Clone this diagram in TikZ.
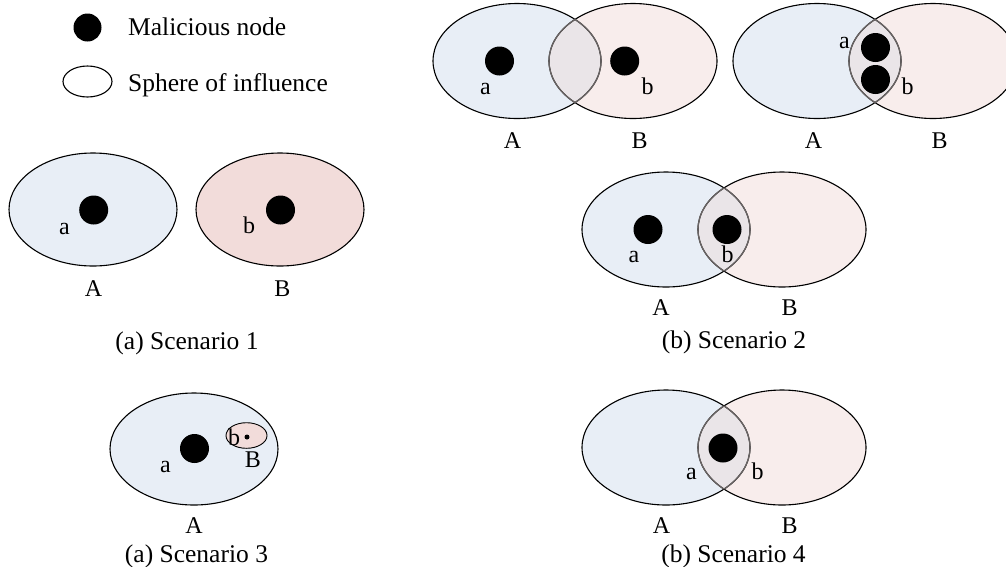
\documentclass[tikz,border=0pt]{standalone}
\usepackage{fontspec}
\setmainfont{Liberation Serif}
\definecolor{fillA}{RGB}{232,238,246}
\definecolor{fillB}{RGB}{248,237,236}
\definecolor{fillBs}{RGB}{242,220,218}
\definecolor{fillAB}{RGB}{234,229,232}
\definecolor{innerarc}{RGB}{105,100,100}
\tikzset{
  sph/.style={draw=black, line width=1.1pt},
  inarc/.style={draw=innerarc, line width=1.3pt},
  dotn/.style={circle, fill=black, minimum size=29pt, inner sep=0pt},
  lbl/.style={font=\fontsize{24}{24}\selectfont, anchor=base, inner sep=0pt},
  capt/.style={font=\fontsize{25.5}{26}\selectfont, anchor=base, inner sep=0pt},
  legtxt/.style={font=\fontsize{25.5}{26}\selectfont, anchor=base west, inner sep=0pt},
}
\newcommand\myell[2]{(#1,#2) ellipse [x radius=84pt, y radius=57.5pt]}
\newcommand\vennpair[3]{%
  \fill[fillA] \myell{#1}{#3};
  \fill[fillB] \myell{#2}{#3};
  \begin{scope}
    \clip \myell{#1}{#3};
    \fill[fillAB] \myell{#2}{#3};
  \end{scope}
  \draw[sph] \myell{#1}{#3};
  \draw[sph] \myell{#2}{#3};
  \begin{scope}
    \clip \myell{#1}{#3};
    \draw[inarc] \myell{#2}{#3};
  \end{scope}
  \begin{scope}
    \clip \myell{#2}{#3};
    \draw[inarc] \myell{#1}{#3};
  \end{scope}
}
\begin{document}
\begin{tikzpicture}[x=1pt,y=-1pt]
\useasboundingbox (0,0) rectangle (1006,566);
\fill[white] (0,0) rectangle (1006,566);

% Legend
\node[circle, fill=black, minimum size=28pt, inner sep=0pt] (legdot) at (87.5,27.5) {};
\draw[sph, fill=white] (87.5,81.5) ellipse [x radius=24.5pt, y radius=15.5pt];
\node[legtxt] (legmal) at (128,35) {Malicious node};
\node[legtxt] (legsph) at (128,91.5) {Sphere of influence};

% Top right, pair 1
\vennpair{517}{633}{61}
\node[dotn] (t1a) at (499.5,61) {};
\node[dotn] (t1b) at (624.7,61) {};
\node[lbl] (t1la) at (485.5,94) {a};
\node[lbl] (t1lb) at (647.5,94) {b};
\node[lbl] (t1A) at (512.5,148) {A};
\node[lbl] (t1B) at (639.5,148) {B};

% Top right, pair 2
\vennpair{817}{933}{61}
\node[dotn] (t2a) at (875.5,47.5) {};
\node[dotn] (t2b) at (875.5,79.5) {};
\node[lbl] (t2la) at (844.5,48) {a};
\node[lbl] (t2lb) at (907.5,94) {b};
\node[lbl] (t2A) at (813.5,148) {A};
\node[lbl] (t2B) at (939.5,148) {B};

% Scenario 1
\draw[sph, fill=fillA] (93,209.5) ellipse [x radius=84pt, y radius=56.5pt];
\draw[sph, fill=fillBs] (280,209.5) ellipse [x radius=84pt, y radius=56.5pt];
\node[dotn] (s1a) at (93.7,210) {};
\node[dotn] (s1b) at (280.5,210) {};
\node[lbl] (s1la) at (64.5,234) {a};
\node[lbl] (s1lb) at (249,233) {b};
\node[lbl] (s1A) at (93.5,296) {A};
\node[lbl] (s1B) at (282.5,296) {B};
\node[capt] (cap1) at (187,349) {(a) Scenario 1};

% Scenario 2
\vennpair{666}{782}{229.5}
\node[dotn] (s2a) at (648,229.5) {};
\node[dotn] (s2b) at (727,229.5) {};
\node[lbl] (s2la) at (634,262) {a};
\node[lbl] (s2lb) at (727.5,262) {b};
\node[lbl] (s2A) at (661,315) {A};
\node[lbl] (s2B) at (789.5,315) {B};
\node[capt] (cap2) at (734,348) {(b) Scenario 2};

% Scenario 3
\draw[sph, fill=fillA] (194,449) ellipse [x radius=84pt, y radius=56pt];
\draw[line width=0.9pt, fill=fillBs] (246.5,435.5) ellipse [x radius=20.5pt, y radius=12.8pt];
\node[dotn] (s3a) at (194.5,448.5) {};
\node[circle, fill=black, minimum size=5pt, inner sep=0pt] (s3b) at (247,437) {};
\node[lbl] (s3la) at (165.5,472) {a};
\node[lbl] (s3lb) at (234,445) {b};
\node[lbl] (s3B) at (253,467) {B};
\node[lbl] (s3A) at (194,533) {A};
\node[capt] (cap3) at (196.5,562) {(a) Scenario 3};

% Scenario 4
\vennpair{666}{782}{447.5}
\node[dotn] (s4d) at (723,448) {};
\node[lbl] (s4la) at (691.5,479) {a};
\node[lbl] (s4lb) at (757.5,479) {b};
\node[lbl] (s4A) at (661.5,533) {A};
\node[lbl] (s4B) at (789.5,533) {B};
\node[capt] (cap4) at (733.5,562) {(b) Scenario 4};
\end{tikzpicture}
\end{document}
